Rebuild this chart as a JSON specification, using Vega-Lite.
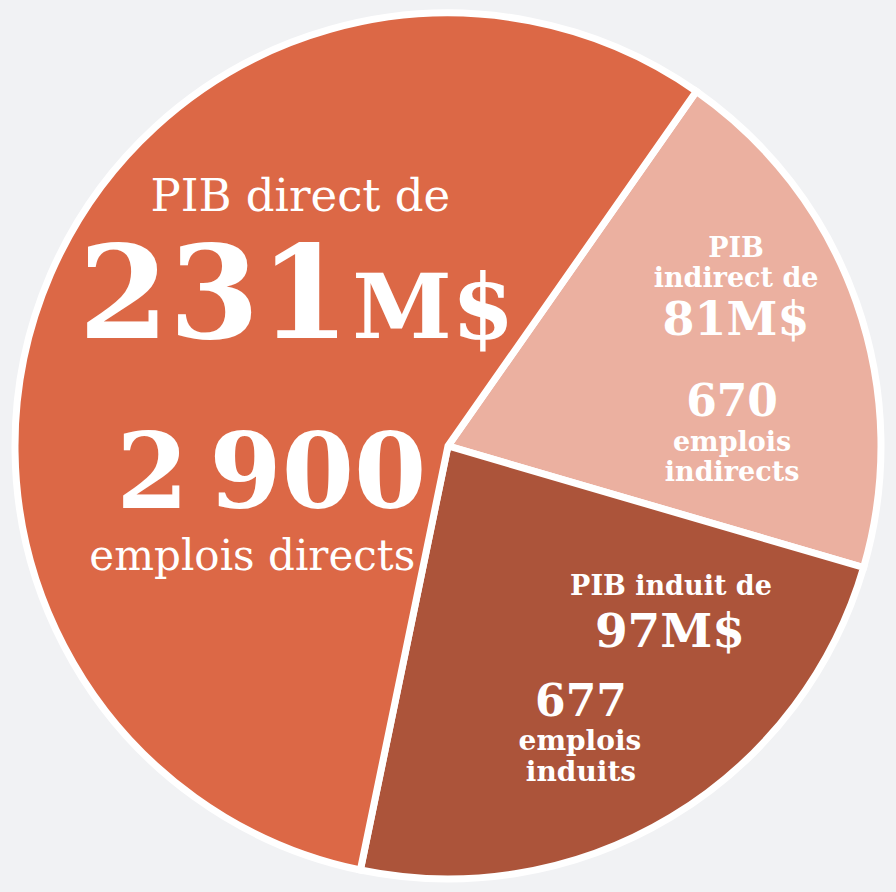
{
  "$schema": "https://vega.github.io/schema/vega-lite/v6.json",
  "width": 896,
  "height": 892,
  "padding": 0,
  "autosize": {"type": "fit", "contains": "padding"},
  "background": "#f1f2f4",
  "view": {"stroke": null},
  "data": {
    "values": [
      {"categorie": "indirect", "ordre": 1, "pib": 81, "emplois": 670},
      {"categorie": "induit", "ordre": 2, "pib": 97, "emplois": 677},
      {"categorie": "direct", "ordre": 3, "pib": 231, "emplois": 2900}
    ]
  },
  "encoding": {
    "theta": {"field": "pib", "type": "quantitative", "stack": true, "scale": {"range": [0.6109, 6.8941]}},
    "order": {"field": "ordre", "type": "quantitative"}
  },
  "layer": [
    {
      "mark": {"type": "arc", "radius": 433, "stroke": "white", "strokeWidth": 7},
      "encoding": {
        "color": {"field": "categorie", "type": "nominal", "legend": null,
          "scale": {"domain": ["direct", "indirect", "induit"], "range": ["#dc6846", "#ebb0a0", "#ac543a"]}}
      }
    },
    {
      "mark": {"type": "text", "radius": 150, "dx": -10, "dy": -176, "font": "DejaVu Serif", "fontSize": 45, "fill": "white", "baseline": "alphabetic", "align": "center"},
      "encoding": {"text": {"condition": {"test": "datum.categorie === 'direct'", "value": "PIB direct de"}, "value": ""}}
    },
    {
      "mark": {"type": "text", "radius": 150, "dx": -96, "dy": -49, "font": "DejaVu Serif", "fontWeight": "bold", "fontSize": 130, "fill": "white", "baseline": "alphabetic", "align": "center"},
      "encoding": {"text": {"condition": {"test": "datum.categorie === 'direct'", "value": "231"}, "value": ""}}
    },
    {
      "mark": {"type": "text", "radius": 150, "dx": 123, "dy": -49, "font": "DejaVu Serif", "fontWeight": "bold", "fontSize": 90, "fill": "white", "baseline": "alphabetic", "align": "center"},
      "encoding": {"text": {"condition": {"test": "datum.categorie === 'direct'", "value": "M$"}, "value": ""}}
    },
    {
      "mark": {"type": "text", "radius": 150, "dx": -39, "dy": 121, "font": "DejaVu Serif", "fontWeight": "bold", "fontSize": 104, "fill": "white", "baseline": "alphabetic", "align": "center"},
      "encoding": {"text": {"condition": {"test": "datum.categorie === 'direct'", "value": "2\u2009900"}, "value": ""}}
    },
    {
      "mark": {"type": "text", "radius": 150, "dx": -58, "dy": 183, "font": "DejaVu Serif", "fontSize": 42, "fill": "white", "baseline": "alphabetic", "align": "center"},
      "encoding": {"text": {"condition": {"test": "datum.categorie === 'direct'", "value": "emplois directs"}, "value": ""}}
    },
    {
      "mark": {"type": "text", "radius": 300, "dx": 5, "dy": -90, "font": "DejaVu Serif", "fontWeight": "bold", "fontSize": 27, "fill": "white", "baseline": "alphabetic", "align": "center"},
      "encoding": {"text": {"condition": {"test": "datum.categorie === 'indirect'", "value": "PIB"}, "value": ""}}
    },
    {
      "mark": {"type": "text", "radius": 300, "dx": 5, "dy": -60, "font": "DejaVu Serif", "fontWeight": "bold", "fontSize": 27, "fill": "white", "baseline": "alphabetic", "align": "center"},
      "encoding": {"text": {"condition": {"test": "datum.categorie === 'indirect'", "value": "indirect de"}, "value": ""}}
    },
    {
      "mark": {"type": "text", "radius": 300, "dx": 5, "dy": -12, "font": "DejaVu Serif", "fontWeight": "bold", "fontSize": 46, "fill": "white", "baseline": "alphabetic", "align": "center"},
      "encoding": {"text": {"condition": {"test": "datum.categorie === 'indirect'", "value": "81M$"}, "value": ""}}
    },
    {
      "mark": {"type": "text", "radius": 300, "dx": 1, "dy": 69, "font": "DejaVu Serif", "fontWeight": "bold", "fontSize": 44, "fill": "white", "baseline": "alphabetic", "align": "center"},
      "encoding": {"text": {"condition": {"test": "datum.categorie === 'indirect'", "value": "670"}, "value": ""}}
    },
    {
      "mark": {"type": "text", "radius": 300, "dx": 1, "dy": 104, "font": "DejaVu Serif", "fontWeight": "bold", "fontSize": 27, "fill": "white", "baseline": "alphabetic", "align": "center"},
      "encoding": {"text": {"condition": {"test": "datum.categorie === 'indirect'", "value": "emplois"}, "value": ""}}
    },
    {
      "mark": {"type": "text", "radius": 300, "dx": 1, "dy": 134, "font": "DejaVu Serif", "fontWeight": "bold", "fontSize": 27, "fill": "white", "baseline": "alphabetic", "align": "center"},
      "encoding": {"text": {"condition": {"test": "datum.categorie === 'indirect'", "value": "indirects"}, "value": ""}}
    },
    {
      "mark": {"type": "text", "radius": 260, "dx": 89, "dy": -74, "font": "DejaVu Serif", "fontWeight": "bold", "fontSize": 27, "fill": "white", "baseline": "alphabetic", "align": "center"},
      "encoding": {"text": {"condition": {"test": "datum.categorie === 'induit'", "value": "PIB induit de"}, "value": ""}}
    },
    {
      "mark": {"type": "text", "radius": 260, "dx": 88, "dy": -22, "font": "DejaVu Serif", "fontWeight": "bold", "fontSize": 47, "fill": "white", "baseline": "alphabetic", "align": "center"},
      "encoding": {"text": {"condition": {"test": "datum.categorie === 'induit'", "value": "97M$"}, "value": ""}}
    },
    {
      "mark": {"type": "text", "radius": 260, "dx": -1, "dy": 47, "font": "DejaVu Serif", "fontWeight": "bold", "fontSize": 44, "fill": "white", "baseline": "alphabetic", "align": "center"},
      "encoding": {"text": {"condition": {"test": "datum.categorie === 'induit'", "value": "677"}, "value": ""}}
    },
    {
      "mark": {"type": "text", "radius": 260, "dx": -2, "dy": 81, "font": "DejaVu Serif", "fontWeight": "bold", "fontSize": 28, "fill": "white", "baseline": "alphabetic", "align": "center"},
      "encoding": {"text": {"condition": {"test": "datum.categorie === 'induit'", "value": "emplois"}, "value": ""}}
    },
    {
      "mark": {"type": "text", "radius": 260, "dx": -1, "dy": 112, "font": "DejaVu Serif", "fontWeight": "bold", "fontSize": 28, "fill": "white", "baseline": "alphabetic", "align": "center"},
      "encoding": {"text": {"condition": {"test": "datum.categorie === 'induit'", "value": "induits"}, "value": ""}}
    }
  ]
}
